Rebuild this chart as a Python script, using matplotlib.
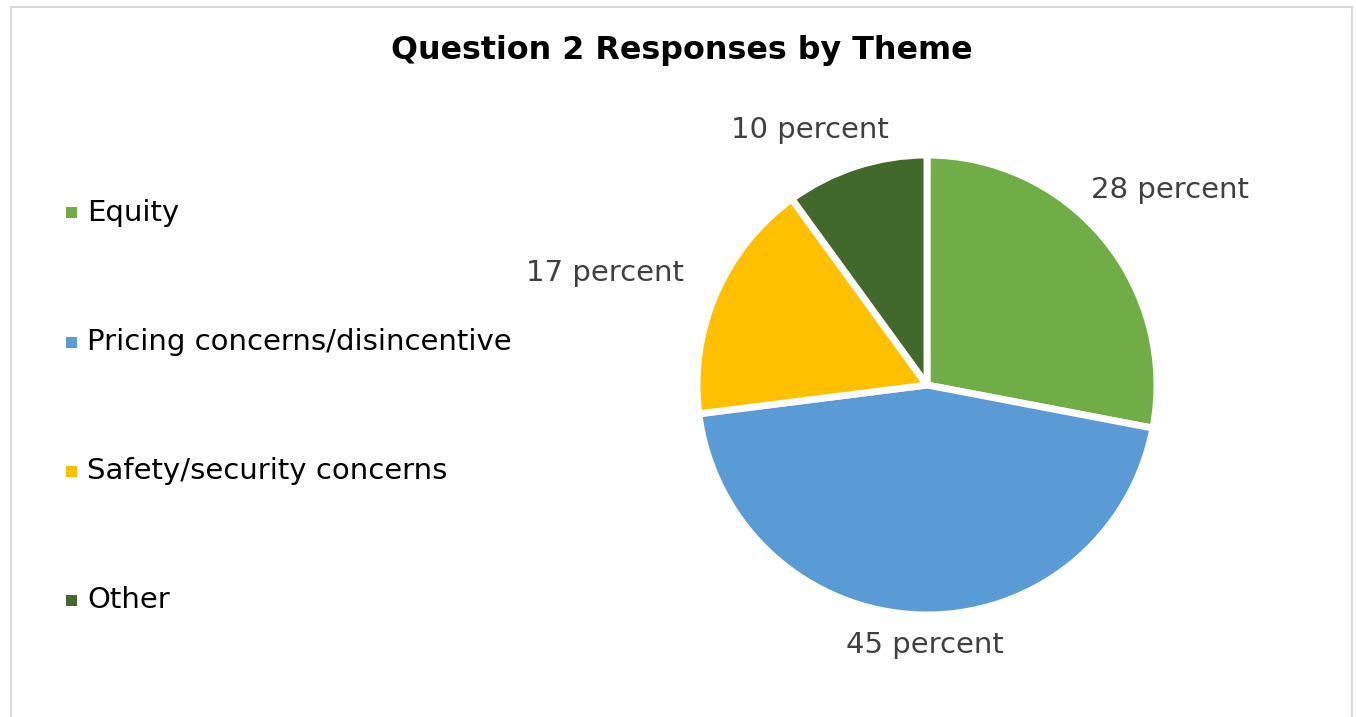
import matplotlib.pyplot as plt
import numpy as np
from matplotlib.patches import Rectangle

# response share by theme
themes = ['Equity', 'Pricing concerns/disincentive', 'Safety/security concerns', 'Other']
shares = [28, 45, 17, 10]
colors = ['#70AD47', '#5B9BD5', '#FFC000', '#43682B']
# label placement: distance from centre (in radii) and angle nudge (deg)
label_dist = [1.355, 1.13, 1.482, 1.22]
label_nudge = [-0.9, 1.4, 4.2, 6.6]

W, H = 1356, 717
fig = plt.figure(figsize=(W / 100, H / 100), dpi=100)
fig.patch.set_facecolor('white')

# light grey chart frame (bottom edge falls off the image)
fig.add_artist(Rectangle((11 / W, -0.05), (1352 - 11) / W, 1.05 - 7 / H,
                         transform=fig.transFigure, fill=False,
                         edgecolor='#D9D9D9', linewidth=1.5))

fig.text(682 / W, 1 - 50 / H, 'Question 2 Responses by Theme', ha='center', va='center',
         fontsize=22.9, fontweight='bold', color='black')

# pie axes: centre (927, 385), radius 230 px
cx, cy, r = 927, 385, 230
ax = fig.add_axes([(cx - r) / W, (H - cy - r) / H, 2 * r / W, 2 * r / H])
wedges, texts = ax.pie(shares, colors=colors, startangle=90, counterclock=False,
                       radius=1.0, labels=[f'{s} percent' for s in shares],
                       wedgeprops=dict(edgecolor='white', linewidth=5, joinstyle='bevel'),
                       textprops=dict(fontsize=21, color='#404040'))
# move the value labels out from each slice's middle angle
total = sum(shares)
start = 90.0
for t, s, d, n in zip(texts, shares, label_dist, label_nudge):
    mid = np.deg2rad(start - 360 * s / total / 2 + n)
    start -= 360 * s / total
    t.set_position((d * np.cos(mid), d * np.sin(mid)))
    t.set_ha('center')
    t.set_va('center')
ax.set_xlim(-1, 1)
ax.set_ylim(-1, 1)
ax.set_aspect('equal')
ax.axis('off')

# legend down the left side
for i, (name, c) in enumerate(zip(themes, colors)):
    y = 1 - (213 + 129 * i) / H
    fig.add_artist(Rectangle((66 / W, y - 5.5 / H), 11 / W, 11 / H,
                             transform=fig.transFigure, facecolor=c, edgecolor='none'))
    fig.text(87 / W, y, name, ha='left', va='center', fontsize=21, color='black')

fig.savefig('out.png', dpi=100)
